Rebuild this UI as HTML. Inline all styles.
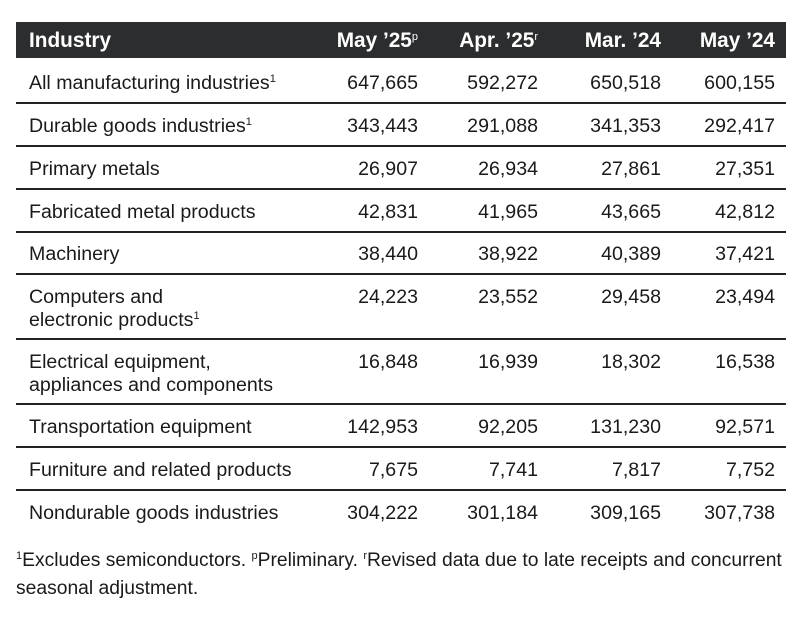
<!DOCTYPE html>
<html><head><meta charset="utf-8"><style>
body{margin:0;width:800px;height:620px;background:#fff;font-family:"Liberation Sans",Arial,sans-serif;color:#1a1a1a;position:relative;overflow:hidden}
.hd{position:absolute;left:16px;top:22px;width:770px;height:36px;background:#2b2d2f}
.t{position:absolute;font-size:19.6px;white-space:nowrap;line-height:23px}
.h{color:#fff;font-weight:bold;font-size:20.8px}
.r{text-align:right}
.ln{position:absolute;left:16px;width:770px;height:2px;background:#222}
sup{font-size:11px;vertical-align:7px;line-height:0}
.fn{position:absolute;left:16px;font-size:19.3px;line-height:28px;width:790px;white-space:nowrap}
</style></head><body>
<div class="hd"></div>
<div class="t h" style="left:29px;top:29px">Industry</div>
<div class="t h r" style="right:382px;top:29px">May ’25<sup style="font-weight:normal">p</sup></div>
<div class="t h r" style="right:262px;top:29px">Apr. ’25<sup style="font-weight:normal">r</sup></div>
<div class="t h r" style="right:139px;top:29px">Mar. ’24</div>
<div class="t h r" style="right:25px;top:29px">May ’24</div>

<div class="t" style="left:29px;top:72px">All manufacturing industries<sup>1</sup></div>
<div class="t r" style="right:382px;top:72px">647,665</div><div class="t r" style="right:262px;top:72px">592,272</div><div class="t r" style="right:139px;top:72px">650,518</div><div class="t r" style="right:25px;top:72px">600,155</div>
<div class="ln" style="top:102px"></div>

<div class="t" style="left:29px;top:115px">Durable goods industries<sup>1</sup></div>
<div class="t r" style="right:382px;top:115px">343,443</div><div class="t r" style="right:262px;top:115px">291,088</div><div class="t r" style="right:139px;top:115px">341,353</div><div class="t r" style="right:25px;top:115px">292,417</div>
<div class="ln" style="top:145px"></div>

<div class="t" style="left:29px;top:158px">Primary metals</div>
<div class="t r" style="right:382px;top:158px">26,907</div><div class="t r" style="right:262px;top:158px">26,934</div><div class="t r" style="right:139px;top:158px">27,861</div><div class="t r" style="right:25px;top:158px">27,351</div>
<div class="ln" style="top:188px"></div>

<div class="t" style="left:29px;top:201px">Fabricated metal products</div>
<div class="t r" style="right:382px;top:201px">42,831</div><div class="t r" style="right:262px;top:201px">41,965</div><div class="t r" style="right:139px;top:201px">43,665</div><div class="t r" style="right:25px;top:201px">42,812</div>
<div class="ln" style="top:231px"></div>

<div class="t" style="left:29px;top:243px">Machinery</div>
<div class="t r" style="right:382px;top:243px">38,440</div><div class="t r" style="right:262px;top:243px">38,922</div><div class="t r" style="right:139px;top:243px">40,389</div><div class="t r" style="right:25px;top:243px">37,421</div>
<div class="ln" style="top:273px"></div>

<div class="t" style="left:29px;top:286px;line-height:23px">Computers and<br>electronic products<sup>1</sup></div>
<div class="t r" style="right:382px;top:286px">24,223</div><div class="t r" style="right:262px;top:286px">23,552</div><div class="t r" style="right:139px;top:286px">29,458</div><div class="t r" style="right:25px;top:286px">23,494</div>
<div class="ln" style="top:338px"></div>

<div class="t" style="left:29px;top:351px;line-height:23px">Electrical equipment,<br>appliances and components</div>
<div class="t r" style="right:382px;top:351px">16,848</div><div class="t r" style="right:262px;top:351px">16,939</div><div class="t r" style="right:139px;top:351px">18,302</div><div class="t r" style="right:25px;top:351px">16,538</div>
<div class="ln" style="top:403px"></div>

<div class="t" style="left:29px;top:416px">Transportation equipment</div>
<div class="t r" style="right:382px;top:416px">142,953</div><div class="t r" style="right:262px;top:416px">92,205</div><div class="t r" style="right:139px;top:416px">131,230</div><div class="t r" style="right:25px;top:416px">92,571</div>
<div class="ln" style="top:446px"></div>

<div class="t" style="left:29px;top:459px">Furniture and related products</div>
<div class="t r" style="right:382px;top:459px">7,675</div><div class="t r" style="right:262px;top:459px">7,741</div><div class="t r" style="right:139px;top:459px">7,817</div><div class="t r" style="right:25px;top:459px">7,752</div>
<div class="ln" style="top:489px"></div>

<div class="t" style="left:29px;top:502px">Nondurable goods industries</div>
<div class="t r" style="right:382px;top:502px">304,222</div><div class="t r" style="right:262px;top:502px">301,184</div><div class="t r" style="right:139px;top:502px">309,165</div><div class="t r" style="right:25px;top:502px">307,738</div>

<div class="fn" style="top:547px"><sup>1</sup>Excludes semiconductors. <sup>p</sup>Preliminary. <sup>r</sup>Revised data due to late receipts and concurrent<br>seasonal adjustment.</div>
</body></html>
